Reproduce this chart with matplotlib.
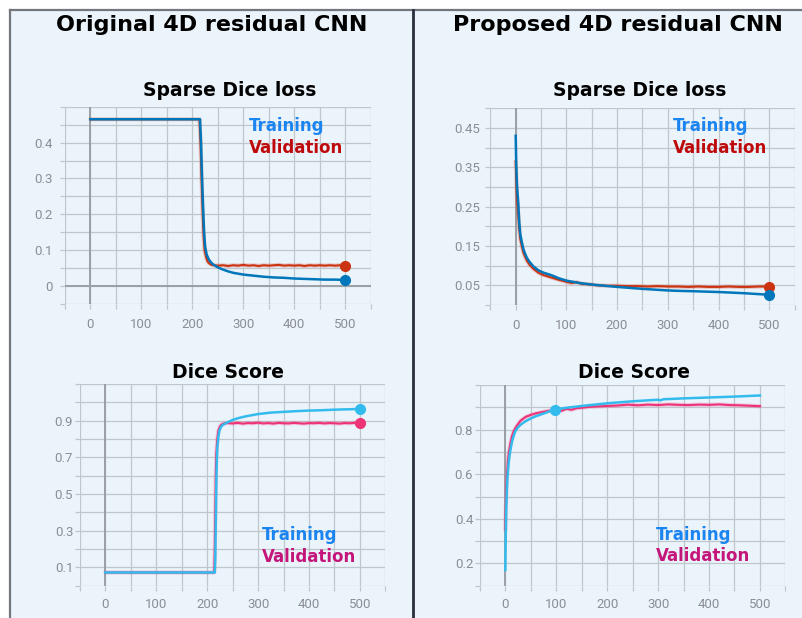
import matplotlib
matplotlib.use("Agg")
import matplotlib.pyplot as plt
import numpy as np
from matplotlib.patches import Rectangle
from matplotlib.lines import Line2D

# ---------------- data ----------------
panel_titles = ["Original 4D residual CNN", "Proposed 4D residual CNN"]
loss_title = "Sparse Dice loss"
score_title = "Dice Score"
series_names = ["Training", "Validation"]

# Original network: sparse Dice loss
orig_loss_train_ep = [0, 50, 100, 150, 200, 215, 217, 219, 221, 223, 225, 228, 232, 236, 240,
                      250, 260, 270, 280, 300, 320, 340, 360, 380, 400, 420, 440, 460, 480, 500]
orig_loss_train = [0.465, 0.465, 0.465, 0.465, 0.465, 0.465, 0.40, 0.30, 0.22, 0.15, 0.11, 0.088,
                   0.075, 0.067, 0.061, 0.052, 0.046, 0.041, 0.037, 0.032, 0.029, 0.026, 0.024,
                   0.023, 0.021, 0.020, 0.019, 0.018, 0.018, 0.017]
orig_loss_val_ep = [0, 50, 100, 150, 200, 214, 216, 218, 220, 222, 224, 227, 230, 234, 238, 242,
                    250, 260, 270, 280, 290, 300, 310, 320, 330, 340, 350, 360, 370, 380, 390,
                    400, 410, 420, 430, 440, 450, 460, 470, 480, 490, 500]
orig_loss_val = [0.465, 0.465, 0.465, 0.465, 0.465, 0.465, 0.40, 0.30, 0.21, 0.14, 0.10, 0.080,
                 0.068, 0.062, 0.059, 0.058, 0.057, 0.058, 0.056, 0.058, 0.057, 0.059, 0.057,
                 0.058, 0.056, 0.058, 0.057, 0.058, 0.059, 0.057, 0.058, 0.057, 0.058, 0.056,
                 0.058, 0.057, 0.058, 0.057, 0.058, 0.057, 0.058, 0.056]

# Proposed network: sparse Dice loss
prop_loss_train_ep = [0, 1, 2, 3, 5, 7, 9, 12, 15, 18, 22, 27, 35, 45, 55, 70, 85, 100, 125, 150,
                      175, 200, 250, 300, 320, 350, 400, 450, 500]
prop_loss_train = [0.43, 0.36, 0.32, 0.295, 0.26, 0.21, 0.18, 0.16, 0.143, 0.132, 0.12, 0.11,
                   0.098, 0.088, 0.082, 0.076, 0.068, 0.062, 0.056, 0.052, 0.049, 0.046, 0.041,
                   0.037, 0.036, 0.035, 0.033, 0.030, 0.026]
prop_loss_val_ep = [0, 1, 2, 3, 5, 7, 9, 12, 15, 18, 22, 27, 35, 45, 55, 70, 85, 100, 110, 120,
                    130, 140, 150, 160, 180, 200, 220, 240, 260, 280, 300, 320, 340, 360, 380,
                    400, 420, 440, 460, 480, 500]
prop_loss_val = [0.365, 0.33, 0.29, 0.265, 0.23, 0.195, 0.168, 0.150, 0.134, 0.124, 0.113, 0.103,
                 0.092, 0.082, 0.076, 0.070, 0.064, 0.059, 0.056, 0.058, 0.054, 0.053, 0.052,
                 0.050, 0.049, 0.049, 0.048, 0.048, 0.047, 0.048, 0.047, 0.047, 0.046, 0.047,
                 0.046, 0.046, 0.047, 0.046, 0.046, 0.047, 0.047]

# Original network: Dice score
orig_score_train_ep = [0, 50, 100, 150, 200, 215, 216, 217, 218, 219, 220, 222, 224, 227, 230,
                       235, 240, 250, 260, 270, 280, 300, 325, 350, 375, 400, 425, 450, 475, 500]
orig_score_train = [0.072, 0.072, 0.072, 0.072, 0.072, 0.072, 0.15, 0.35, 0.55, 0.68, 0.75,
                    0.81, 0.845, 0.865, 0.875, 0.884, 0.891, 0.904, 0.913, 0.92, 0.926, 0.936,
                    0.944, 0.948, 0.952, 0.955, 0.957, 0.960, 0.962, 0.964]
orig_score_val_ep = [0, 50, 100, 150, 200, 214, 215, 216, 217, 218, 220, 222, 225, 228, 232, 236,
                     240, 250, 260, 270, 280, 290, 300, 310, 320, 330, 340, 350, 360, 370, 380,
                     390, 400, 410, 420, 430, 440, 450, 460, 470, 480, 490, 500]
orig_score_val = [0.072, 0.072, 0.072, 0.072, 0.072, 0.072, 0.20, 0.40, 0.60, 0.72, 0.80, 0.845,
                  0.868, 0.878, 0.884, 0.886, 0.887, 0.885, 0.888, 0.884, 0.887, 0.886, 0.889,
                  0.885, 0.887, 0.884, 0.888, 0.886, 0.885, 0.888, 0.886, 0.884, 0.887, 0.886,
                  0.888, 0.885, 0.887, 0.886, 0.884, 0.887, 0.886, 0.888, 0.889]

# Proposed network: Dice score
prop_score_train_ep = [0, 1, 2, 3, 4, 6, 8, 10, 13, 16, 20, 25, 30, 40, 50, 60, 75, 97, 120, 150,
                       175, 200, 250, 300, 305, 310, 350, 400, 450, 500]
prop_score_train = [0.17, 0.36, 0.46, 0.53, 0.58, 0.64, 0.68, 0.71, 0.745, 0.77, 0.795, 0.81,
                    0.822, 0.838, 0.85, 0.86, 0.872, 0.89, 0.898, 0.906, 0.912, 0.918, 0.927,
                    0.934, 0.931, 0.936, 0.94, 0.944, 0.948, 0.953]
prop_score_val_ep = [0, 1, 2, 3, 5, 7, 10, 13, 16, 20, 25, 30, 40, 50, 60, 75, 90, 100, 110, 120,
                     130, 140, 150, 165, 180, 200, 220, 240, 260, 280, 300, 320, 340, 360, 380,
                     400, 420, 440, 460, 480, 500]
prop_score_val = [0.35, 0.45, 0.53, 0.59, 0.66, 0.70, 0.74, 0.77, 0.79, 0.808, 0.825, 0.84,
                  0.857, 0.866, 0.873, 0.88, 0.886, 0.89, 0.884, 0.893, 0.889, 0.896, 0.898,
                  0.902, 0.904, 0.906, 0.908, 0.912, 0.909, 0.912, 0.910, 0.913, 0.911, 0.910,
                  0.912, 0.911, 0.913, 0.910, 0.909, 0.907, 0.905]
prop_score_marker_epoch = 97

# ---------------- style ----------------
W, H = 802, 618
BG = "#EBF3FB"
GRID = "#BFC6CC"
ZERO = "#9A9FA5"
TICKLBL = "#8A8F94"
LOSS_TRAIN, LOSS_VAL = "#0077BB", "#CC3311"
SCORE_TRAIN, SCORE_VAL = "#33BBEE", "#EE3377"
TXT_TRAIN = "#1A84F0"
TXT_VAL_LOSS = "#BE0A0A"
TXT_VAL_SCORE = "#C3157A"
TITLE_FONT = "DejaVu Sans"
TICK_FONT = "Roboto"

fig = plt.figure(figsize=(W / 100, H / 100), dpi=100)
fig.patch.set_facecolor("white")


def fx(x):
    return x / W


def fy(y):
    return 1 - y / H


# panel background and frame (kept beneath the axes)
fig.patches.append(Rectangle((fx(10), 0), fx(W) - fx(10), fy(10), transform=fig.transFigure,
                             facecolor=BG, edgecolor="none", zorder=-10))
fig.lines.append(Line2D([fx(10), fx(W)], [fy(10), fy(10)], transform=fig.transFigure,
                        color="#74767F", lw=1.6, zorder=-9))
fig.lines.append(Line2D([fx(10), fx(10)], [0, fy(10)], transform=fig.transFigure,
                        color="#74767F", lw=1.6, zorder=-9))
fig.lines.append(Line2D([fx(413), fx(413)], [0, fy(10)], transform=fig.transFigure,
                        color="#2B2D3C", lw=2.0, zorder=-9))


def make_axes(px_left, px_top, px_right, px_bottom):
    ax = fig.add_axes([fx(px_left), fy(px_bottom), fx(px_right) - fx(px_left),
                       fy(px_top) - fy(px_bottom)])
    ax.set_facecolor("none")
    ax.set_zorder(1)
    for s in ax.spines.values():
        s.set_visible(False)
    return ax


def style_axes(ax, xlim, ylim, ystep, ylabels, ylabel_fmt, ypad, xpad):
    ax.set_xlim(*xlim)
    ax.set_ylim(*ylim)
    xt = np.arange(-50, 551, 50)
    ax.set_xticks(xt)
    ax.set_xticklabels([str(v) if (v >= 0 and v % 100 == 0) else "" for v in xt])
    n = int(round((ylim[1] - ylim[0]) / ystep))
    yt = [round(ylim[0] + i * ystep, 3) for i in range(n + 1)]
    ax.set_yticks(yt)
    ax.set_yticklabels([ylabel_fmt(v) if any(abs(v - l) < 1e-6 for l in ylabels) else ""
                        for v in yt])
    ax.grid(True, color=GRID, lw=0.9, zorder=0)
    ax.set_axisbelow(True)
    ax.tick_params(axis="both", length=3.8, width=0.9, color=GRID, labelcolor=TICKLBL,
                   labelsize=9.5)
    ax.tick_params(axis="x", pad=xpad)
    ax.tick_params(axis="y", pad=ypad)
    for lbl in ax.get_xticklabels() + ax.get_yticklabels():
        lbl.set_fontfamily(TICK_FONT)
    ax.axvline(0, color=ZERO, lw=1.4, zorder=1)


def draw_pair(ax, tr_ep, tr_v, va_ep, va_v, c_tr, c_va, end_markers=True):
    ax.plot(va_ep, va_v, color=c_va, lw=3.0, alpha=0.22, zorder=2, solid_capstyle="round")
    ax.plot(va_ep, va_v, color=c_va, lw=1.5, zorder=3)
    ax.plot(tr_ep, tr_v, color=c_tr, lw=1.8, zorder=4)
    if end_markers:
        ax.plot([va_ep[-1]], [va_v[-1]], "o", color=c_va, ms=7, zorder=5)
        ax.plot([tr_ep[-1]], [tr_v[-1]], "o", color=c_tr, ms=7, zorder=6)


def series_labels(px_x, px_y1, px_y2, c_val):
    fig.text(fx(px_x), fy(px_y1), series_names[0], color=TXT_TRAIN, fontsize=12,
             fontweight="bold", family=TITLE_FONT, ha="left", va="center", zorder=5)
    fig.text(fx(px_x), fy(px_y2), series_names[1], color=c_val, fontsize=12,
             fontweight="bold", family=TITLE_FONT, ha="left", va="center", zorder=5)


def fmt_plain(v):
    return "0" if abs(v) < 1e-9 else ("%g" % v)


# main titles
fig.text(fx(211.5), fy(25), panel_titles[0], fontsize=16, fontweight="bold",
         family=TITLE_FONT, ha="center", va="center")
fig.text(fx(618), fy(25), panel_titles[1], fontsize=16, fontweight="bold",
         family=TITLE_FONT, ha="center", va="center")

# subplot titles
for (x, y, t) in [(230, 90, loss_title), (640, 91, loss_title),
                  (228, 372, score_title), (634, 373, score_title)]:
    fig.text(fx(x), fy(y), t, fontsize=13.5, fontweight="bold", family=TITLE_FONT,
             ha="center", va="center")

# original: loss
ax1 = make_axes(65, 106.7, 370.7, 304)
style_axes(ax1, (-50, 550), (-0.05, 0.5), 0.05, [0, 0.1, 0.2, 0.3, 0.4], fmt_plain, 5, 6)
ax1.axhline(0, color=ZERO, lw=1.4, zorder=1)
draw_pair(ax1, orig_loss_train_ep, orig_loss_train, orig_loss_val_ep, orig_loss_val,
          LOSS_TRAIN, LOSS_VAL)
series_labels(249, 126, 148, TXT_VAL_LOSS)

# proposed: loss
ax2 = make_axes(490.35, 108.3, 794.55, 305)
style_axes(ax2, (-50, 550), (0, 0.5), 0.05, [0.05, 0.15, 0.25, 0.35, 0.45], fmt_plain, 3.5, 6)
draw_pair(ax2, prop_loss_train_ep, prop_loss_train, prop_loss_val_ep, prop_loss_val,
          LOSS_TRAIN, LOSS_VAL)
series_labels(672.7, 126, 148, TXT_VAL_LOSS)

# original: Dice score
ax3 = make_axes(79.8, 384, 385.4, 585.7)
style_axes(ax3, (-50, 550), (0, 1.1), 0.1, [0.1, 0.3, 0.5, 0.7, 0.9], fmt_plain, 1, 5)
draw_pair(ax3, orig_score_train_ep, orig_score_train, orig_score_val_ep, orig_score_val,
          SCORE_TRAIN, SCORE_VAL)
series_labels(262, 535, 556.7, TXT_VAL_SCORE)

# proposed: Dice score
ax4 = make_axes(479.9, 385, 785.4, 585.7)
style_axes(ax4, (-50, 550), (0.1, 1.0), 0.1, [0.2, 0.4, 0.6, 0.8], fmt_plain, 1, 5)
draw_pair(ax4, prop_score_train_ep, prop_score_train, prop_score_val_ep, prop_score_val,
          SCORE_TRAIN, SCORE_VAL, end_markers=False)
mi = prop_score_train_ep.index(prop_score_marker_epoch)
ax4.plot([prop_score_train_ep[mi]], [prop_score_train[mi]], "o", color=SCORE_TRAIN, ms=7,
         zorder=6)
series_labels(656, 535, 556, TXT_VAL_SCORE)

fig.savefig("out.png", dpi=100, facecolor="white")
